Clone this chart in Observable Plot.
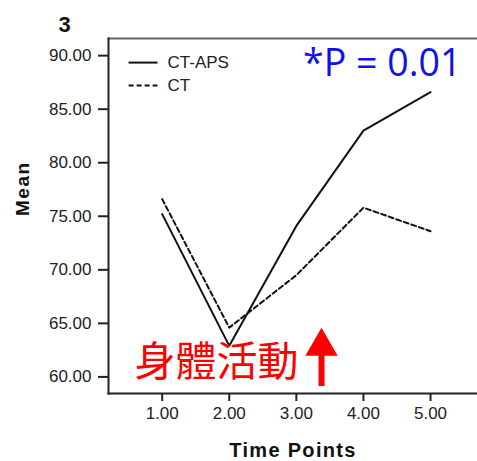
<!DOCTYPE html>
<html><head><meta charset="utf-8">
<script src="https://cdn.jsdelivr.net/npm/d3@7"></script>
<script src="https://cdn.jsdelivr.net/npm/@observablehq/plot@0.6"></script>
<style>body{margin:0;background:#fff}</style>
</head><body><div id="chart"></div>
<script>
const timePoints = [1, 2, 3, 4, 5];
const ctAps = [75.2, 62.9, 74.1, 83.0, 86.6];
const ct = [76.6, 64.6, 69.5, 75.8, 73.6];
const yTicks = [60, 65, 70, 75, 80, 85, 90];
const seriesNames = ["CT-APS", "CT"];

const data = [
  ...timePoints.map((t, i) => ({t, v: ctAps[i], s: "CT-APS"})),
  ...timePoints.map((t, i) => ({t, v: ct[i], s: "CT"}))
];
const legend = [
  {x1: 0.5, x2: 0.93, y: 89.35, s: "CT-APS", tx: 1.08},
  {x1: 0.5, x2: 0.93, y: 87.2, s: "CT", tx: 1.08}
];
const font = "Liberation Sans, Arial, sans-serif";
const dash = "5,3";

const chart = Plot.plot({
  width: 477, height: 461,
  marginLeft: 108, marginTop: 38, marginRight: 0, marginBottom: 68,
  style: {fontFamily: font, fontSize: "17px", color: "#222", background: "#fff"},
  x: {domain: [0.2, 5.7]},
  y: {domain: [58.45, 91.6]},
  marks: [
    Plot.axisX({ticks: timePoints, tickFormat: d3.format(".2f"), tickSize: 8, tickPadding: 5, strokeWidth: 2,
      fontSize: 17, label: null}),
    Plot.axisY({ticks: yTicks, tickFormat: d3.format(".2f"), tickSize: 10, tickPadding: 7, strokeWidth: 2,
      fontSize: 17, label: null}),
    Plot.text(["Time Points"], {frameAnchor: "bottom", dy: 63, fontSize: 20, fontWeight: "bold", fill: "#111"}),
    Plot.text(["Mean"], {frameAnchor: "left", dx: -86, rotate: -90, fontSize: 19, fontWeight: "bold", fill: "#111"}),
    Plot.frame({anchor: "top", stroke: "#666", strokeWidth: 2}),
    Plot.frame({anchor: "left", stroke: "#222", strokeWidth: 2}),
    Plot.frame({anchor: "bottom", stroke: "#222", strokeWidth: 2}),
    Plot.line(data.filter(d => d.s === "CT-APS"), {x: "t", y: "v", stroke: "#111", strokeWidth: 2}),
    Plot.line(data.filter(d => d.s === "CT"), {x: "t", y: "v", stroke: "#111", strokeWidth: 2, strokeDasharray: dash}),
    Plot.link(legend.filter(d => d.s === "CT-APS"), {x1: "x1", x2: "x2", y1: "y", y2: "y", stroke: "#111", strokeWidth: 2}),
    Plot.link(legend.filter(d => d.s === "CT"), {x1: "x1", x2: "x2", y1: "y", y2: "y", stroke: "#111", strokeWidth: 2, strokeDasharray: dash}),
    Plot.text(legend, {x: "tx", y: "y", text: "s", textAnchor: "start", fontSize: 17, fill: "#222"}),
    Plot.text(["*P = 0.01"], {x: [4.28], y: [89.2], fontSize: 37.5, fill: "#1010ee", fontFamily: "Open Sans, sans-serif"}),
    Plot.text(["身體活動"], {x: [1.81], y: [61.3], fontSize: 41, fill: "#ff0000", fontFamily: "Noto Sans CJK TC"}),
    Plot.ruleX([3.375], {y1: 59.1, y2: 62.2, stroke: "#ff0000", strokeWidth: 6}),
    Plot.dot([3.375], {x: d => d, y: [62.85], symbol: "triangle", r: 12, fill: "#ff0000", stroke: "none"}),
    Plot.text(["3"], {frameAnchor: "top-left", dx: -50, dy: -22, fontSize: 22, fontWeight: "bold", fill: "#111"})
  ]
});
chart.querySelectorAll("g[aria-label$='tick label']").forEach(g => {
  g.setAttribute("font-size", "17");
  g.querySelectorAll("text").forEach(t => t.setAttribute("font-size", "17"));
});
chart.querySelectorAll("text").forEach(t => {
  if (t.textContent === "Mean") t.setAttribute("letter-spacing", "1.5px");
  if (t.textContent === "Time Points") t.setAttribute("letter-spacing", "1.3px");
});
document.getElementById("chart").appendChild(chart);
</script>
</body></html>
